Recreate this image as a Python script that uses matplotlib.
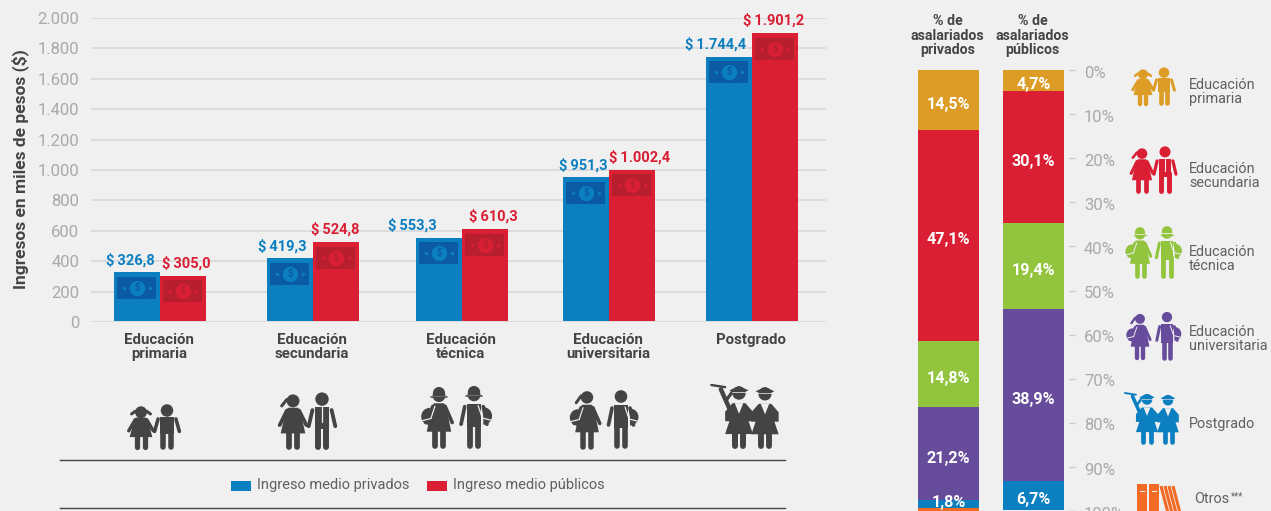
"""Ingresos medios por nivel educativo, privados y publicos, con composicion."""

import matplotlib
matplotlib.use("Agg")
import matplotlib.pyplot as plt
from matplotlib.patches import Circle, Polygon, Rectangle, Wedge
from matplotlib.transforms import ScaledTranslation

WIDTH, HEIGHT = 1271, 511
BACKGROUND = "#f0f0f0"
DARK = "#444444"
MUTED = "#a9a9a9"
SOFT_TEXT = "#606060"
GRID = "#dcdcdc"
BLUE, RED = "#0c7fc0", "#da1f35"
BLUE_DARK, RED_DARK = "#0a5ba3", "#b71f2e"
GOLD, GREEN, PURPLE, ORANGE = "#dd9c26", "#92c43e", "#664c9a", "#f36a24"

CATEGORIES = ["Educación\nprimaria", "Educación\nsecundaria", "Educación\ntécnica",
              "Educación\nuniversitaria", "Postgrado"]
INCOME_PRIVATE = [326.8, 419.3, 553.3, 951.3, 1744.4]
INCOME_PUBLIC = [305.0, 524.8, 610.3, 1002.4, 1901.2]
INCOME_TICKS = [0, 200, 400, 600, 800, 1000, 1200, 1400, 1600, 1800, 2000]

# stacked shares, the private column is drawn a little off its printed labels
SHARE_LABELS_PRIVATE = ["14,5%", "47,1%", "14,8%", "21,2%", "1,8%", ""]
SHARE_HEIGHTS_PRIVATE = [13.6, 47.85, 15.0, 21.1, 1.8, 0.65]
SHARES_PUBLIC = [4.7, 30.1, 19.4, 38.9, 6.7]
SHARE_TICKS = [0, 10, 20, 30, 40, 50, 60, 70, 80, 90, 100]
SHARE_COLORS = [GOLD, RED, GREEN, PURPLE, BLUE, ORANGE]

# layout, in pixels of the 1271x511 canvas
GROUP_CENTERS = [160, 313, 462, 609, 752]
BAR_WIDTH = 46
PRIVATE_LABEL_SHIFT = [-7, -8, -27, -3, -13]
PUBLIC_LABEL_SHIFT = [3, -1, 8, 8, -1]
COLUMN_PRIVATE, COLUMN_PUBLIC = 948.5, 1033.5
COLUMN_WIDTH = 61
WIDEN = [1.35, 1.12, 1.0, 1.0, 1.0]

plt.rcParams["font.family"] = ["Roboto", "DejaVu Sans"]


def axes_at(figure, left, top, right, bottom):
    return figure.add_axes([left / WIDTH, 1 - bottom / HEIGHT,
                            (right - left) / WIDTH, (bottom - top) / HEIGHT])


def spanish(value):
    return f"{value:,.1f}".replace(",", "#").replace(".", ",").replace("#", ".")


def money(axis, x, value, fill, ink):
    """Dark banknote inside the top of a bar."""
    axis.add_patch(Rectangle((x - 19.5, value - 30 - 145), 39, 145, facecolor=ink,
                             edgecolor="none", zorder=3))
    middle = value - 30 - 72
    axis.plot([x], [middle], "o", ms=11, mfc=fill, mec="none", zorder=4)
    axis.plot([x - 13, x + 13], [middle, middle], "o", ms=2.4, mfc=fill, mec="none", zorder=4)
    axis.text(x, middle, "$", ha="center", va="center", fontsize=7, weight="bold",
              color=ink, zorder=5)


def person(axis, cx, top, height, color, wide=1.0, dress=False, pigtails=False, ponytail=False,
           tie=False, helmet=False, carry=0, gown=False, raised=False):
    """Small pictogram; local units are a 60 tall figure centred on x=0."""
    scale = height / 60

    def at(u, v):
        return cx + u * scale * wide, top + v * scale

    def limb(p, q, thick, shade=color, order=6):
        (x0, y0), (x1, y1) = at(*p), at(*q)
        axis.plot([x0, x1], [y0, y1], color=shade, lw=thick * scale * wide * 0.72,
                  solid_capstyle="round", zorder=order)

    def shape(points, shade=color, order=6):
        axis.add_patch(Polygon([at(*p) for p in points], closed=True, facecolor=shade,
                               edgecolor="none", zorder=order))

    axis.add_patch(Circle(at(0, 7.5), 6.3 * scale * wide, facecolor=color, edgecolor="none", zorder=6))
    hem = 43 if dress or gown else 37

    limb((-4.2, hem - 2), (-4.2, 57.5), 5.6)
    limb((4.2, hem - 2), (4.2, 57.5), 5.6)

    if gown:
        shape([(-6, 17), (6, 17), (13, 25), (13, 34), (9, 34), (13, 46), (-13, 46),
               (-9, 34), (-13, 34), (-13, 25)])
        shape([(-4, 17), (4, 17), (0, 27)], BACKGROUND, 7)
        shape([(-9, 5), (0, 1), (9, 5), (0, 9)], color, 8)
        limb((-7, 6.5), (7, 6.5), 0.7, BACKGROUND, 8)
    elif dress:
        shape([(-5, 15), (5, 15), (7.5, 20), (12, 43), (-12, 43), (-7.5, 20)])
        limb((-6, 18), (-13, 34), 3.6)
        limb((6, 18), (13, 34), 3.6)
    else:
        shape([(-7, 16), (7, 16), (7, 39), (-7, 39)])
        limb((-9, 19), (-12.5, 36), 3.6)
        limb((9, 19), (12.5, 36), 3.6)

    if tie:
        limb((0, 16), (0, 32), 1.2, BACKGROUND, 7)
    if pigtails:
        limb((-6, 6), (-10, 10), 3.2)
        limb((6, 6), (10, 10), 3.2)
    if ponytail:
        limb((-6, 6), (-11, 13), 3)
    if helmet:
        axis.add_patch(Wedge(at(0, 5), 6 * scale, 180, 360, facecolor=color,
                             edgecolor="none", zorder=7))
        limb((-7, 7.5), (7, 7.5), 1, BACKGROUND, 8)
        limb((-7.5, 9), (7.5, 9), 1.5, color, 8)
    if carry:
        # bag slung across the body, split from it by a thin light strap
        axis.add_patch(Wedge(at(carry * 9, 28), 8.5 * scale, -90 if carry > 0 else 90,
                             90 if carry > 0 else 270, facecolor=color, edgecolor="none", zorder=7))
        limb((carry * 4, 18), (carry * 8, 30), 1.2, BACKGROUND, 8)
        limb((carry * 8, 30), (carry * 16, 32), 1.2, BACKGROUND, 8)
    if raised:
        limb((-9, 22), (-17, 4), 4.2)
        limb((-26, 0), (-13, 2), 2.2)


def education_icons(axis, level, color, girl, boy):
    """Draw the boy and girl of one education level at (centre, top, height)."""
    styles = [
        (dict(dress=True, pigtails=True), dict()),
        (dict(dress=True, ponytail=True), dict(tie=True)),
        (dict(dress=True, helmet=True, carry=-1), dict(helmet=True, carry=1)),
        (dict(dress=True, ponytail=True, carry=-1), dict(carry=1)),
        (dict(gown=True, raised=True, ponytail=True), dict(gown=True)),
    ]
    person(axis, *girl, color, wide=WIDEN[level], **styles[level][0])
    person(axis, *boy, color, wide=WIDEN[level], **styles[level][1])


def draw_incomes(figure):
    axis = axes_at(figure, 91, 18, 826, 322)
    axis.set_xlim(91, 826)
    axis.set_ylim(0, 2000)
    axis.patch.set_alpha(0)
    for spine in axis.spines.values():
        spine.set_visible(False)
    axis.set_xticks([])
    axis.set_yticks(INCOME_TICKS)
    axis.set_yticklabels([f"{tick:,}".replace(",", ".") for tick in INCOME_TICKS],
                         fontsize=12, color=MUTED)
    axis.tick_params(axis="y", length=0, pad=8.5)
    axis.grid(axis="y", color=GRID, linewidth=1.4, zorder=0)
    axis.set_axisbelow(True)

    for i, center in enumerate(GROUP_CENTERS):
        left, right = center - BAR_WIDTH / 2, center + BAR_WIDTH / 2
        axis.bar(left, INCOME_PRIVATE[i] - 6, BAR_WIDTH, bottom=6, color=BLUE, zorder=2)
        axis.bar(right, INCOME_PUBLIC[i] - 6, BAR_WIDTH, bottom=6, color=RED, zorder=2)
        money(axis, left, INCOME_PRIVATE[i], BLUE, BLUE_DARK)
        money(axis, right, INCOME_PUBLIC[i], RED, RED_DARK)
        axis.annotate(f"$\u2009{spanish(INCOME_PRIVATE[i])}", (left, INCOME_PRIVATE[i]),
                      xytext=(PRIVATE_LABEL_SHIFT[i] * 0.72, 8.7),
                      textcoords="offset points", ha="center", va="center",
                      fontsize=10.5, weight="bold", color=BLUE, zorder=6)
        axis.annotate(f"$\u2009{spanish(INCOME_PUBLIC[i])}", (right, INCOME_PUBLIC[i]),
                      xytext=(PUBLIC_LABEL_SHIFT[i] * 0.72, 9.2),
                      textcoords="offset points", ha="center", va="center",
                      fontsize=10.5, weight="bold", color=RED, zorder=6)
    return axis


def stack(axis, center, heights, labels):
    bottom = 0
    for height, label, color in zip(heights, labels, SHARE_COLORS):
        axis.bar(center, height, COLUMN_WIDTH, bottom=bottom, color=color, zorder=2)
        if label:
            # thin segments get their label pushed up off the page edge
            shift = 1.5 if height < 3 else -3.2
            axis.annotate(label, (center, bottom + height / 2), xytext=(0, shift),
                          textcoords="offset points", ha="center", va="center",
                          fontsize=11.6, weight="bold", color="white", zorder=3,
                          annotation_clip=False)
        bottom += height


def draw_shares(figure):
    axis = axes_at(figure, 918, 70, 1069, 511)
    axis.set_xlim(918, 1069)
    axis.set_ylim(100, 0)
    axis.patch.set_alpha(0)
    for spine in axis.spines.values():
        spine.set_visible(False)
    axis.set_xticks([])
    axis.yaxis.tick_right()
    axis.set_yticks(SHARE_TICKS)
    axis.set_yticklabels([f"{tick}%" for tick in SHARE_TICKS], fontsize=12, color=MUTED)
    axis.tick_params(axis="y", length=4.3, width=1, color="#cccccc", pad=6.5)
    nudge = ScaledTranslation(0, -1.2 / 72, figure.dpi_scale_trans)
    for text in axis.get_yticklabels():
        text.set_transform(text.get_transform() + nudge)
    stack(axis, COLUMN_PRIVATE, SHARE_HEIGHTS_PRIVATE, SHARE_LABELS_PRIVATE)
    stack(axis, COLUMN_PUBLIC, SHARES_PUBLIC, [f"{v:.1f}%".replace(".", ",") for v in SHARES_PUBLIC])
    return axis


def draw_overlay(figure):
    axis = figure.add_axes([0, 0, 1, 1])
    axis.set_xlim(0, WIDTH)
    axis.set_ylim(HEIGHT, 0)
    axis.axis("off")
    axis.patch.set_alpha(0)

    axis.text(20, 169, "Ingresos en miles de pesos ($)", rotation=90, ha="center", va="center",
              fontsize=12.5, weight="bold", color=DARK)

    for center, name in zip(GROUP_CENTERS, CATEGORIES):
        axis.text(center - 1, 340 if "\n" not in name else 347, name, ha="center", va="center",
                  fontsize=10.8, weight="bold", color=DARK, linespacing=0.95)

    # dark pictograms under the bars
    dark_icons = [((141, 407, 42), (167, 405, 44)), ((293, 394, 55), (322, 392, 57)),
                  ((439, 388, 61), (474, 387, 62)), ((587, 390, 59), (621, 389, 60)),
                  ((739, 385, 64), (765, 386, 63))]
    for level, (girl, boy) in enumerate(dark_icons):
        education_icons(axis, level, DARK, girl, boy)

    # legend band
    axis.plot([60, 785], [460.5, 460.5], color=DARK, lw=1)
    axis.plot([60, 785], [508.5, 508.5], color=DARK, lw=1)
    axis.add_patch(Rectangle((231, 481), 20, 10, facecolor=BLUE, edgecolor="none"))
    axis.add_patch(Rectangle((427, 481), 20, 10, facecolor=RED, edgecolor="none"))
    axis.text(257, 485.5, "Ingreso medio privados", va="center", fontsize=10.5, color=SOFT_TEXT)
    axis.text(453, 485.5, "Ingreso medio públicos", va="center", fontsize=10.5, color=SOFT_TEXT)

    # stacked column headers
    axis.text(COLUMN_PRIVATE - 1, 35.5, "% de\nasalariados\nprivados", ha="center", va="center",
              fontsize=10.2, weight="bold", color=DARK, linespacing=1.03)
    axis.text(COLUMN_PUBLIC - 1, 35.5, "% de\nasalariados\npúblicos", ha="center", va="center",
              fontsize=10.2, weight="bold", color=DARK, linespacing=1.03)

    # colour key on the right
    key_icons = [(GOLD, (1143, 70, 35), (1164, 68, 37), "Educación\nprimaria", 92),
                 (RED, (1142, 148, 45), (1165, 146, 47), "Educación\nsecundaria", 176),
                 (GREEN, (1140, 228, 50), (1167, 227, 51), "Educación\ntécnica", 259),
                 (PURPLE, (1140, 313, 47), (1167, 311, 49), "Educación\nuniversitaria", 339),
                 (BLUE, (1147, 393, 51), (1168, 394, 50), "Postgrado", 424)]
    for level, (color, girl, boy, name, y) in enumerate(key_icons):
        education_icons(axis, level, color, girl, boy)
        axis.text(1189, y, name, va="center", fontsize=10.4, color=SOFT_TEXT, linespacing=0.95)

    # books for the "otros" row
    for left, width in [(1137, 10), (1149, 10)]:
        axis.add_patch(Rectangle((left, 484), width, 30, facecolor=ORANGE, edgecolor="none"))
        axis.plot([left + 3, left + 7], [491, 491], color=BACKGROUND, lw=0.8)
    for shift in (0, 4, 8, 12):
        axis.plot([1161 + shift, 1168 + shift], [486, 513], color=ORANGE, lw=2.2,
                  solid_capstyle="butt")
    axis.text(1194, 499, "Otros", va="center", fontsize=10.4, color=SOFT_TEXT)
    axis.text(1231, 496, "***", va="center", fontsize=7, color=SOFT_TEXT)


def main():
    figure = plt.figure(figsize=(WIDTH / 100, HEIGHT / 100), dpi=100, facecolor=BACKGROUND)
    draw_incomes(figure)
    draw_shares(figure)
    draw_overlay(figure)
    figure.savefig("out.png", dpi=100, facecolor=BACKGROUND)


if __name__ == "__main__":
    main()
